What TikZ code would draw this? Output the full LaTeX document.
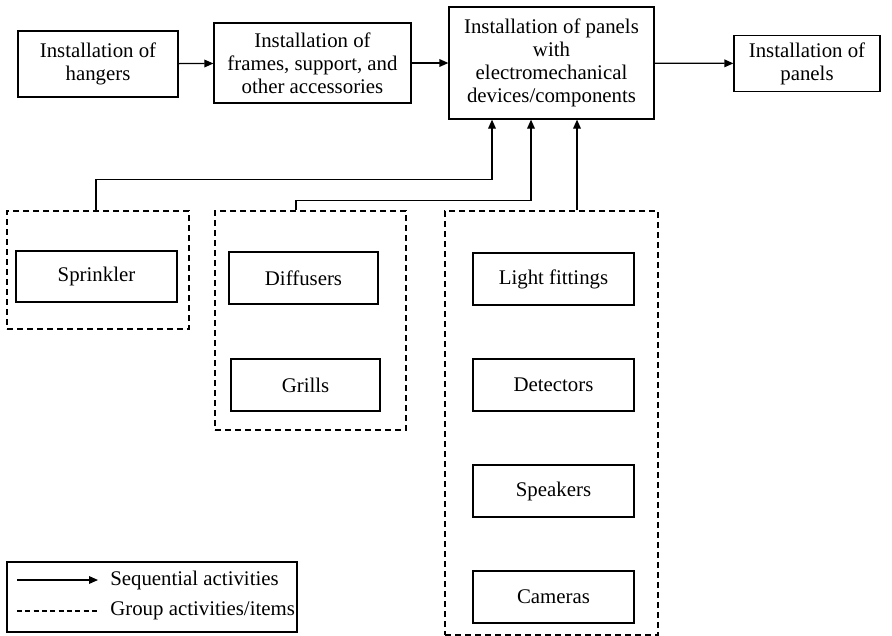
\documentclass[tikz,border=0pt]{standalone}
\usepackage{fontspec}
\setmainfont{Liberation Serif}
\usetikzlibrary{arrows.meta}

\tikzset{
  box/.style={draw, line width=0.75pt, align=center, inner sep=2pt,
    font=\fontsize{12.5}{13.8}\selectfont},
  group/.style={draw, dash pattern=on 3.6pt off 2.4pt, line width=0.75pt},
  seq/.style={-{Triangle[length=5.4pt,width=4.6pt]}, line width=0.75pt},
}

\begin{document}
\begin{tikzpicture}[x=0.6pt, y=-0.6pt]
\useasboundingbox (0,0) rectangle (892,636);

% Main sequence
\node[box, minimum width=96pt, minimum height=39.6pt] (hang) at (98,64)
  {Installation of\\hangers};
\node[box, minimum width=118.2pt, minimum height=48pt] (frame) at (312.5,63)
  {Installation of\\frames, support, and\\other accessories};
\node[box, minimum width=123pt, minimum height=67.2pt] (dev) at (551.5,63)
  {Installation of panels\\with\\electromechanical\\devices/components};
\node[box, minimum width=87.6pt, minimum height=33.6pt] (pan) at (807,63.5)
  {Installation of\\panels};

\draw[seq] (hang) -- (frame);
\draw[seq] (frame) -- (dev);
\draw[seq] (dev) -- (pan);

% Groups
\node[group, minimum width=109.2pt, minimum height=70.8pt] (grp1) at (98,270) {};
\node[group, minimum width=114.6pt, minimum height=131.4pt] (grp2) at (310.5,320.5) {};
\node[group, minimum width=127.8pt, minimum height=254.4pt] (grp3) at (551.5,423) {};

\node[box, minimum width=96.6pt, minimum height=30.6pt] (spr) at (96.5,276.5) {Sprinkler};
\node[box, minimum width=89.4pt, minimum height=31.2pt] (dif) at (303.5,278) {Diffusers};
\node[box, minimum width=89.4pt, minimum height=31.2pt] (gri) at (305.5,385) {Grills};

\node[box, minimum width=96.6pt, minimum height=31.2pt] (lig) at (553.5,279) {Light fittings};
\node[box, minimum width=96.6pt, minimum height=31.2pt] (det) at (553.5,385) {Detectors};
\node[box, minimum width=96.6pt, minimum height=31.2pt] (spk) at (553.5,491) {Speakers};
\node[box, minimum width=96.6pt, minimum height=31.2pt] (cam) at (553.5,597) {Cameras};

% Group links into the panel installation
\draw[seq] ([xshift=-1.2pt]grp1.north) -- ++(0,-31) -| ([xshift=-35.7pt]dev.south);
\draw[seq] ([xshift=-8.7pt]grp2.north) -- ++(0,-10) -| ([xshift=-12.3pt]dev.south);
\draw[seq] ([xshift=15.3pt]grp3.north) -- ([xshift=15.3pt]dev.south);

% Legend
\node[draw, line width=0.75pt, minimum width=174pt, minimum height=42pt] (leg) at (152,597) {};
\coordinate (l1a) at (17,580);
\coordinate (l1b) at (98,580);
\coordinate (l2a) at (17,611);
\coordinate (l2b) at (98,611);
\draw[seq] (l1a) -- (l1b);
\draw[line width=0.75pt, dash pattern=on 3pt off 2pt] (l2a) -- (l2b);
\node[anchor=west, inner sep=0pt, font=\fontsize{12.5}{13.8}\selectfont] (seqtxt) at (110,580) {Sequential activities};
\node[anchor=west, inner sep=0pt, font=\fontsize{12.5}{13.8}\selectfont] (grptxt) at (110,611) {Group activities/items};
\end{tikzpicture}
\end{document}
